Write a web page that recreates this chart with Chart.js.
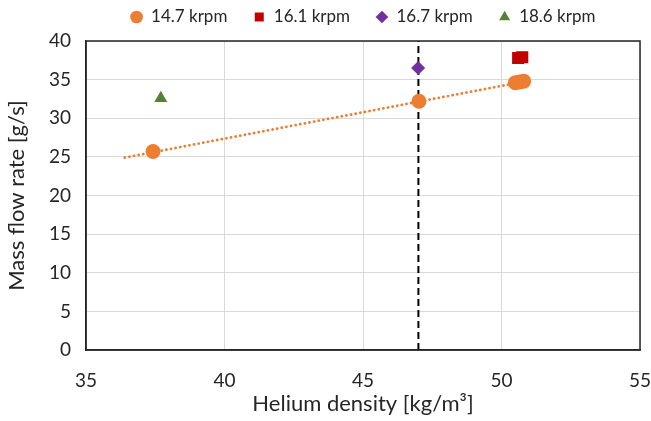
<!DOCTYPE html>
<html><head><meta charset="utf-8">
<script src="https://cdn.jsdelivr.net/npm/chart.js@4/dist/chart.umd.min.js"></script>
<style>html,body{margin:0;padding:0;background:#fff;}canvas{display:block;}</style>
</head><body>
<canvas id="c" width="651" height="421"></canvas>
<script>
const seriesNames = ['14.7 krpm', '16.1 krpm', '16.7 krpm', '18.6 krpm'];
const s147x = [37.42, 47.02, 50.5, 50.65, 50.8];
const s147y = [25.7, 32.2, 34.6, 34.7, 34.8];
const s161x = [50.6, 50.75];
const s161y = [37.8, 37.9];
const s167x = [46.99];
const s167y = [36.5];
const s186x = [37.7];
const s186y = [32.6];
const trendX = [36.4, 50.6];
const trendY = [24.9, 34.6];
const vlineX = [47.0, 47.0];
const vlineY = [0, 40];
const xTicks = [35, 40, 45, 50, 55];
const yTicks = [0, 5, 10, 15, 20, 25, 30, 35, 40];

const pts = (xs, ys) => xs.map((x, i) => ({x, y: ys[i]}));
const FONT = 'Lato, "Open Sans", sans-serif';
const LEGEND_H = 41;

const legendFix = {
  id: 'legendFix',
  beforeLayout(chart) {
    const lg = chart.legend;
    if (!lg || lg._patched) return;
    const of = lg.fit;
    lg.fit = function () { of.call(this); this.height = LEGEND_H; };
    lg._patched = true;
  },
  afterLayout(chart) {
    const lg = chart.legend, ca = chart.chartArea;
    if (!lg) return;
    lg.left = ca.left; lg.right = ca.right; lg.width = ca.right - ca.left;
    lg.adjustHitBoxes && lg.adjustHitBoxes();
  }
};

new Chart(document.getElementById('c'), {
  type: 'scatter',
  data: {
    datasets: [
      {label: seriesNames[0], data: pts(s147x, s147y), pointStyle: 'circle', pointRadius: 7.5,
       backgroundColor: '#ED7D31', borderColor: '#ED7D31', borderWidth: 0, order: 1},
      {label: seriesNames[1], data: pts(s161x, s161y), pointStyle: 'rect', pointRadius: 8.5,
       backgroundColor: '#C00000', borderColor: '#C00000', borderWidth: 0, order: 1},
      {label: seriesNames[2], data: pts(s167x, s167y), pointStyle: 'rectRot', pointRadius: 7,
       backgroundColor: '#7030A0', borderColor: '#7030A0', borderWidth: 0, order: 1},
      {label: seriesNames[3], data: pts(s186x, s186y), pointStyle: 'triangle', pointRadius: 7.5,
       backgroundColor: '#548235', borderColor: '#548235', borderWidth: 0, order: 1},
      {label: 'trend', type: 'line', data: pts(trendX, trendY), showLine: true, pointRadius: 0,
       borderColor: '#ED7D31', borderWidth: 2.8, borderDash: [0.1, 4.6], borderCapStyle: 'round', fill: false, order: 3},
      {label: 'vline', type: 'line', data: pts(vlineX, vlineY), showLine: true, pointRadius: 0,
       borderColor: '#000000', borderWidth: 2, borderDash: [7, 4], fill: false, order: 2}
    ]
  },
  options: {
    responsive: false,
    animation: false,
    devicePixelRatio: 1,
    layout: {padding: {left: 4, right: 0, top: 0, bottom: 4}},
    plugins: {
      tooltip: {enabled: false},
      legend: {
        position: 'top',
        labels: {
          filter: (item) => item.datasetIndex < 4,
          generateLabels: (chart) => {
            const items = Chart.defaults.plugins.legend.labels.generateLabels(chart);
            return items.map(it => {
              if (it.datasetIndex < 3) it.text = it.text + '    ';
              return it;
            });
          },
          usePointStyle: true,
          boxWidth: 12, boxHeight: 9,
          padding: 8.5,
          color: '#262626',
          font: {family: FONT, size: 17}
        }
      }
    },
    scales: {
      x: {
        type: 'linear', min: 35, max: 55,
        afterBuildTicks: (ax) => { ax.ticks = xTicks.map(v => ({value: v})); },
        grid: {color: '#D9D9D9', lineWidth: 1, drawTicks: false},
        border: {color: '#262626', width: 1.5},
        ticks: {color: '#262626', font: {family: FONT, size: 19}, padding: 19},
        title: {display: true, text: 'Helium density [kg/m³]', color: '#262626',
                font: {family: FONT, size: 22}, padding: {top: 0, bottom: 0}},
        afterFit: (ax) => { ax.height = 67; ax.paddingRight = 11; ax.paddingLeft = 0; }
      },
      y: {
        type: 'linear', min: 0, max: 40,
        afterBuildTicks: (ax) => { ax.ticks = yTicks.map(v => ({value: v})); },
        grid: {color: '#D9D9D9', lineWidth: 1, drawTicks: false},
        border: {color: '#262626', width: 1.5},
        ticks: {color: '#262626', font: {family: FONT, size: 19}, padding: 15},
        title: {display: true, text: 'Mass flow rate [g/s]', color: '#262626',
                font: {family: FONT, size: 22}, padding: {top: 0, bottom: 4}},
        afterFit: (ax) => { ax.width = 82; }
      }
    }
  },
  plugins: [legendFix, {
    id: 'frame',
    afterDraw(chart) {
      const {ctx, chartArea: a} = chart;
      ctx.save();
      ctx.strokeStyle = '#262626';
      ctx.lineWidth = 1.5;
      ctx.strokeRect(a.left, a.top, a.right - a.left, a.bottom - a.top);
      ctx.restore();
    }
  }]
});
</script>
</body></html>
